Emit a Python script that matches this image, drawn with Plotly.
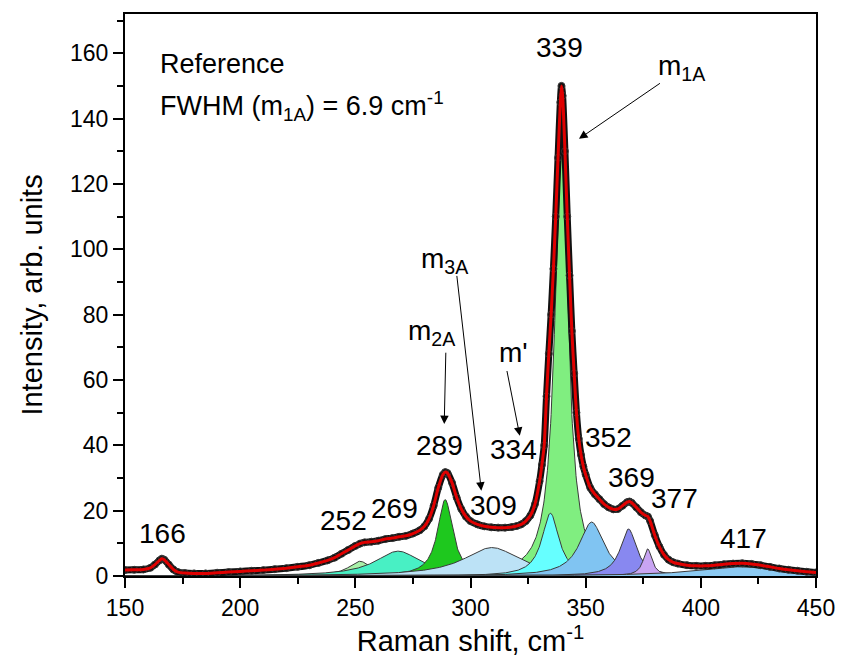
import numpy as np
import plotly.graph_objects as go

shift = [150, 154, 158, 161, 163, 165, 166, 167, 169, 171, 173, 176, 180, 185, 190, 195, 200, 205, 210, 215,
         220, 225, 230, 234, 238, 241, 244, 247, 250, 252, 254, 257, 260, 263, 266, 269, 272, 275, 278, 280,
         282, 284, 286, 288, 289, 290, 292, 294, 296, 298, 300, 303, 306, 309, 312, 315, 318, 320, 322, 324,
         326, 328, 330, 331, 332, 333, 334, 335, 336, 337, 338, 339, 339.5, 340, 341, 342, 343, 344, 345, 346,
         347, 348, 349, 350, 352, 354, 356, 358, 360, 362, 364, 366, 368, 369, 370, 372, 374, 376, 377, 378,
         380, 382, 384, 386, 388, 390, 394, 398, 402, 406, 410, 414, 418, 422, 426, 430, 434, 438, 442, 446, 450]
intensity = [1.8, 1.9, 2.0, 2.5, 3.5, 4.8, 5.3, 5.0, 3.5, 2.0, 1.2, 0.9, 0.8, 0.8, 1.0, 1.2, 1.4, 1.6, 1.8, 2.1,
             2.4, 2.8, 3.3, 4.0, 4.8, 5.6, 6.8, 8.0, 9.2, 9.9, 10.3, 10.5, 10.8, 11.3, 11.6, 12.0, 12.3, 13.0, 14.0, 15.2,
             17.5, 21.5, 27.0, 31.0, 31.8, 31.5, 28.5, 24.0, 20.5, 18.2, 16.8, 15.8, 15.2, 14.9, 14.8, 14.8, 15.0, 15.3, 15.8, 16.8,
             18.5, 22.0, 29.0, 34.0, 40.0, 55.0, 68.0, 80.0, 94.0, 110.0, 128.0, 145.0, 150.0, 147.0, 130.0, 110.0, 92.0, 75.0, 62.0, 50.0,
             42.0, 37.0, 33.5, 31.0, 27.0, 25.0, 23.5, 22.0, 21.0, 20.4, 20.5, 21.5, 22.6, 22.8, 22.4, 21.0, 19.5, 18.5, 18.2, 16.8,
             12.5, 9.0, 6.5, 5.0, 4.2, 3.8, 3.3, 3.1, 3.1, 3.3, 3.6, 3.8, 3.9, 3.7, 3.3, 2.8, 2.3, 1.9, 1.6, 1.3, 1.1]

# Fitted components (drawing order)
comp_center = [339.5, 252, 268.6, 289, 309.3, 334.7, 352.6, 368.6, 376.9, 417]
comp_height = [133.5, 4.5, 7.6, 23.4, 8.7, 19.2, 16.5, 14.4, 8.3, 2.8]
comp_fwhm = [6.9, 12, 24, 8, 30, 9, 13, 8.5, 4.6, 45]
comp_color = ["#80EE80", "#A8F0A8", "#48F0C4", "#1EC81E", "#BCE2F6", "#66FFFF",
              "#80C4F2", "#8888F0", "#C8A4F2", "#8CCAF2"]

# Peak labels
label_text = ["166", "252", "269", "289", "309", "334", "339", "352", "369", "377", "417"]
label_x = [166.4, 245, 267.1, 286.4, 310, 318.6, 338.6, 360, 370, 388.6, 418.6]
label_y = [12.9, 17, 20.8, 39.8, 21.6, 38.8, 161.7, 42.4, 30.2, 23.6, 11.4]

fig = go.Figure()

xs = np.linspace(150, 450, 1501)
for c, h, w, col in zip(comp_center, comp_height, comp_fwhm, comp_color):
    yv = h / (1 + ((xs - c) / (w / 2)) ** 2)
    fig.add_trace(go.Scatter(x=xs, y=yv, mode="lines", fill="tozeroy", fillcolor=col,
                             line=dict(color="#3a3a3a", width=1), hoverinfo="skip", showlegend=False))

# data band + circles
fig.add_trace(go.Scatter(x=shift, y=intensity, mode="lines",
                         line=dict(color="#111111", width=7, shape="spline", smoothing=0.6),
                         showlegend=False))
fig.add_trace(go.Scatter(x=shift, y=intensity, mode="markers",
                         marker=dict(symbol="circle-open", size=7, color="#333333", line=dict(width=1)),
                         showlegend=False))
# cumulative fit
fig.add_trace(go.Scatter(x=shift, y=intensity, mode="lines",
                         line=dict(color="#E00000", width=3, shape="spline", smoothing=0.6),
                         showlegend=False))

font_family = "Liberation Sans, Arial, sans-serif"
for t, x, y in zip(label_text, label_x, label_y):
    fig.add_annotation(x=x, y=y, text=t, showarrow=False, font=dict(size=28, color="black"))

fig.add_annotation(x=164.5, y=156.6, text="Reference", showarrow=False, xanchor="left", font=dict(size=27))
fig.add_annotation(x=164.5, y=143.8, text="FWHM (m<sub>1A</sub>) = 6.9 cm<sup>-1</sup>", showarrow=False,
                   xanchor="left", font=dict(size=27))
fig.add_annotation(x=392, y=155.5, text="m<sub>1A</sub>", showarrow=False, font=dict(size=28))
fig.add_annotation(x=289, y=96.5, text="m<sub>3A</sub>", showarrow=False, font=dict(size=28))
fig.add_annotation(x=283.3, y=74.5, text="m<sub>2A</sub>", showarrow=False, font=dict(size=28))
fig.add_annotation(x=318.5, y=68.5, text="m'", showarrow=False, font=dict(size=28))

# arrows: (tail x, tail y, head x, head y)
arrows = [(382.9, 151.1, 347.1, 133.8), (294.0, 92.3, 304.7, 26.1), (289.3, 68.8, 288.6, 46.5), (315.7, 63.2, 321.4, 42.9)]
for tx, ty, hx, hy in arrows:
    fig.add_annotation(x=hx, y=hy, ax=tx, ay=ty, xref="x", yref="y", axref="x", ayref="y", text="",
                       showarrow=True, arrowhead=2, arrowsize=1.7, arrowwidth=1, arrowcolor="black")

fig.update_layout(
    width=847, height=658, margin=dict(l=125, r=22, t=12, b=82),
    plot_bgcolor="white", paper_bgcolor="white",
    font=dict(family=font_family, color="black", size=23),
    showlegend=False,
)
fig.update_xaxes(range=[150, 450], dtick=50, ticks="outside", ticklen=10, tickwidth=2, tickcolor="black",
                 showline=True, linewidth=2, linecolor="black", mirror=True, showgrid=False, zeroline=False,
                 minor=dict(ticks="outside", dtick=25, ticklen=6, tickwidth=2, tickcolor="black"),
                 title=dict(text="Raman shift, cm<sup>-1</sup>", font=dict(size=29), standoff=4),
                 tickfont=dict(size=23))
fig.update_yaxes(range=[0, 172], dtick=20, ticks="outside", ticklen=10, tickwidth=2, tickcolor="black",
                 showline=True, linewidth=2, linecolor="black", mirror=True, showgrid=False, zeroline=False,
                 minor=dict(ticks="outside", dtick=10, ticklen=6, tickwidth=2, tickcolor="black"),
                 title=dict(text="Intensity, arb. units", font=dict(size=29), standoff=19),
                 tickfont=dict(size=23))

fig.write_html("out.html")
